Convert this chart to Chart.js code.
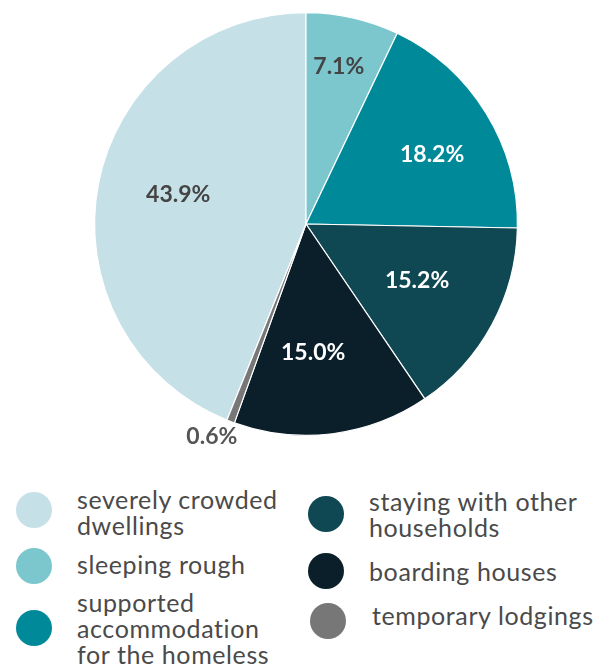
<!DOCTYPE html>
<html>
<head>
<meta charset="utf-8">
<script src="https://cdn.jsdelivr.net/npm/chart.js@4"></script>
<style>
  html, body { margin: 0; padding: 0; background: #fff; }
  body { width: 609px; height: 666px; position: relative; overflow: hidden; font-family: Lato, "Noto Sans", sans-serif; }
  #chartBox { position: absolute; left: 0; top: 0; width: 609px; height: 448px; }
  .dot { position: absolute; width: 36px; height: 36px; border-radius: 50%; }
  .txt { position: absolute; white-space: pre-line; font-size: 25px; line-height: 26px; letter-spacing: 0.6px; color: #4a4a4a; }
</style>
</head>
<body>
<div id="chartBox"><canvas id="c"></canvas></div>
<div id="legend"></div>
<script>
const categories = [
  "severely crowded\ndwellings",
  "sleeping rough",
  "supported\naccommodation\nfor the homeless",
  "staying with other\nhouseholds",
  "boarding houses",
  "temporary lodgings"
];
const values = [43.9, 7.1, 18.2, 15.2, 15.0, 0.6];
const valueLabels = ["43.9%", "7.1%", "18.2%", "15.2%", "15.0%", "0.6%"];
const colors = ["#c5e0e7", "#7cc6cd", "#008a99", "#0f4853", "#0a1f29", "#777777"];
const labelColors = ["#444444", "#444444", "#ffffff", "#ffffff", "#ffffff", "#555555"];

// label placement (radius fraction, angle tweak in degrees)
const labelRadius = [0.62, 0.76, 0.68, 0.59, 0.61, 1.1];
const labelAngle = [2, -1, 3, -1.4, 4, 3];

const total = values.reduce((a, b) => a + b, 0);

const labelPlugin = {
  id: 'sliceLabels',
  afterDatasetsDraw(chart) {
    const ctx = chart.ctx;
    const meta = chart.getDatasetMeta(0);
    ctx.save();
    ctx.font = 'bold 23px Lato, "Noto Sans", sans-serif';
    ctx.textAlign = 'center';
    ctx.textBaseline = 'middle';
    meta.data.forEach((arc, i) => {
      const p = arc.getProps(['x', 'y', 'startAngle', 'endAngle', 'outerRadius'], true);
      const a = (p.startAngle + p.endAngle) / 2 + labelAngle[i] * Math.PI / 180;
      const r = p.outerRadius * labelRadius[i];
      ctx.fillStyle = labelColors[i];
      ctx.fillText(valueLabels[i], p.x + Math.cos(a) * r, p.y + Math.sin(a) * r);
    });
    ctx.restore();
  }
};

new Chart(document.getElementById('c'), {
  type: 'pie',
  data: {
    labels: categories,
    datasets: [{
      data: values,
      backgroundColor: colors,
      borderColor: '#ffffff',
      borderWidth: 1.2
    }]
  },
  options: {
    responsive: true,
    maintainAspectRatio: false,
    animation: false,
    rotation: -values[0] / total * 360,
    layout: { padding: { top: 12, bottom: 12, left: 3, right: 0 } },
    plugins: { legend: { display: false }, tooltip: { enabled: false } }
  },
  plugins: [labelPlugin]
});

// HTML legend layout: dot centre (x, y), text top-left (x, y)
const dotPos = [[34, 510], [34, 566], [34, 628], [326, 514], [326, 571], [328, 621]];
const textPos = [[77, 486], [77, 551], [77, 589], [369, 488], [369, 558], [372, 602]];
const legend = document.getElementById('legend');
categories.forEach((name, i) => {
  const dot = document.createElement('div');
  dot.className = 'dot';
  dot.style.background = colors[i];
  dot.style.left = (dotPos[i][0] - 18) + 'px';
  dot.style.top = (dotPos[i][1] - 18) + 'px';
  const txt = document.createElement('div');
  txt.className = 'txt';
  txt.style.left = textPos[i][0] + 'px';
  txt.style.top = textPos[i][1] + 'px';
  txt.textContent = name;
  legend.appendChild(dot);
  legend.appendChild(txt);
});
</script>
</body>
</html>
